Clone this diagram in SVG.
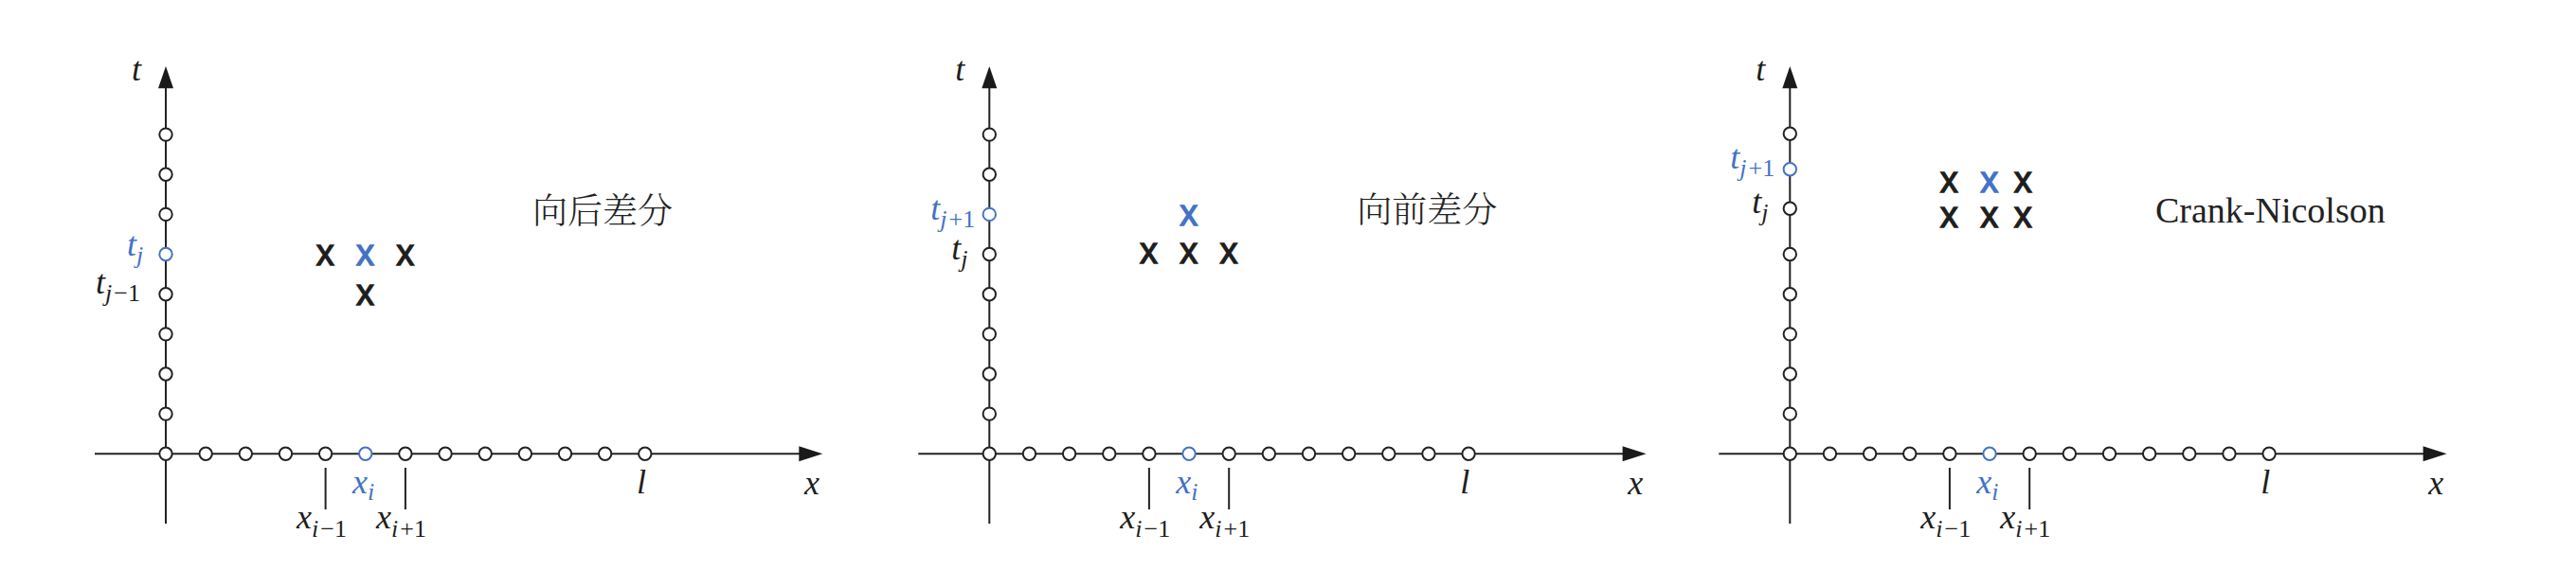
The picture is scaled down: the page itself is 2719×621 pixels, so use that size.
<svg xmlns="http://www.w3.org/2000/svg" width="2719" height="621" viewBox="0 0 2719 621">
<style>
.ax{stroke:#222;stroke-width:2;fill:none}
.ah{fill:#1a1a1a;stroke:none}
.dot{fill:#fff;stroke:#222;stroke-width:2}
.bdot{fill:#fff;stroke:#4472c4;stroke-width:2}
.m{font-family:"Liberation Serif","Times New Roman","DejaVu Serif",serif;font-style:italic;font-size:36px;fill:#1e1e1e}
.s{font-size:26px}
.r{font-style:normal}
.blue{fill:#4472c4}
.cr{font-family:"Liberation Sans",Arial,sans-serif;font-size:38px;fill:#1e1e1e;stroke:#1e1e1e;stroke-width:1.3;text-anchor:middle}
.cr.blue{fill:#4472c4;stroke:#4472c4}
.cn{font-family:"Noto Serif CJK SC","Noto Sans CJK SC","Noto Sans CJK JP",sans-serif;font-size:37px;font-weight:300;fill:#222}
.title{font-family:"Liberation Serif","Times New Roman","DejaVu Serif",serif;font-size:38px;fill:#222}
</style>
<defs>
<g id="frame">
<line class="ax" x1="175" y1="92" x2="175" y2="553"/>
<line class="ax" x1="100" y1="479.3" x2="845" y2="479.3"/>
<polygon class="ah" points="175,70 167,93.3 183,93.3"/>
<polygon class="ah" points="868.3,479.3 843.3,471.3 843.3,487.3"/>
<line class="ax" x1="343.6" y1="494" x2="343.6" y2="538"/>
<line class="ax" x1="427.9" y1="494" x2="427.9" y2="538"/>
</g>
<g id="hdots">
<circle class="dot" cx="175" cy="479.3" r="6.7"/>
<circle class="dot" cx="217.15" cy="479.3" r="6.7"/>
<circle class="dot" cx="259.3" cy="479.3" r="6.7"/>
<circle class="dot" cx="301.45" cy="479.3" r="6.7"/>
<circle class="dot" cx="343.6" cy="479.3" r="6.7"/>
<circle class="bdot" cx="385.75" cy="479.3" r="6.7"/>
<circle class="dot" cx="427.9" cy="479.3" r="6.7"/>
<circle class="dot" cx="470.05" cy="479.3" r="6.7"/>
<circle class="dot" cx="512.2" cy="479.3" r="6.7"/>
<circle class="dot" cx="554.35" cy="479.3" r="6.7"/>
<circle class="dot" cx="596.5" cy="479.3" r="6.7"/>
<circle class="dot" cx="638.65" cy="479.3" r="6.7"/>
<circle class="dot" cx="680.8" cy="479.3" r="6.7"/>
</g>
<g id="xlabels">
<text class="m" x="139" y="85">t</text>
<text class="m" x="849" y="521.5">x</text>
<text class="m" x="677" y="520.5" text-anchor="middle">l</text>
<text class="m blue" x="372" y="520.5">x<tspan class="s" dy="7">i</tspan></text>
<text class="m" x="313" y="558">x<tspan class="s" dy="9">i</tspan><tspan class="s r" dx="2">−1</tspan></text>
<text class="m" x="397" y="558">x<tspan class="s" dy="9">i</tspan><tspan class="s r" dx="2">+1</tspan></text>
</g>
</defs>

<g id="panel-backward">
<g id="p1-connectors"><use href="#frame"/></g>
<g id="p1-xgrid"><use href="#hdots"/></g>
<g id="p1-tgrid">
<circle class="dot" cx="175" cy="437.15" r="6.7"/>
<circle class="dot" cx="175" cy="395" r="6.7"/>
<circle class="dot" cx="175" cy="352.85" r="6.7"/>
<circle class="dot" cx="175" cy="310.7" r="6.7"/>
<circle class="bdot" cx="175" cy="268.55" r="6.7"/>
<circle class="dot" cx="175" cy="226.4" r="6.7"/>
<circle class="dot" cx="175" cy="184.25" r="6.7"/>
<circle class="dot" cx="175" cy="142.1" r="6.7"/>
</g>
<g id="p1-labels">
<use href="#xlabels"/>
<text class="m blue" x="134" y="270">t<tspan class="s" dy="8">j</tspan></text>
<text class="m" x="101" y="310">t<tspan class="s" dy="8">j</tspan><tspan class="s r" dx="2">−1</tspan></text>
</g>
<g id="p1-stencil">
<text class="cr" x="343.3" y="280">x</text>
<text class="cr blue" x="385.5" y="280">x</text>
<text class="cr" x="427.7" y="280">x</text>
<text class="cr" x="385.5" y="321.7">x</text>
</g>
<g id="p1-title"><text class="cn" x="562" y="236">向后差分</text></g>
</g>

<g id="panel-forward" transform="translate(869.3,0)">
<g id="p2-connectors"><use href="#frame"/></g>
<g id="p2-xgrid"><use href="#hdots"/></g>
<g id="p2-tgrid">
<circle class="dot" cx="175" cy="437.15" r="6.7"/>
<circle class="dot" cx="175" cy="395" r="6.7"/>
<circle class="dot" cx="175" cy="352.85" r="6.7"/>
<circle class="dot" cx="175" cy="310.7" r="6.7"/>
<circle class="dot" cx="175" cy="268.55" r="6.7"/>
<circle class="bdot" cx="175" cy="226.4" r="6.7"/>
<circle class="dot" cx="175" cy="184.25" r="6.7"/>
<circle class="dot" cx="175" cy="142.1" r="6.7"/>
</g>
<g id="p2-labels">
<use href="#xlabels"/>
<text class="m blue" x="113" y="232">t<tspan class="s" dy="8">j</tspan><tspan class="s r" dx="2">+1</tspan></text>
<text class="m" x="135" y="274">t<tspan class="s" dy="8">j</tspan></text>
</g>
<g id="p2-stencil">
<text class="cr blue" x="385.5" y="238.3">x</text>
<text class="cr" x="343.3" y="278.3">x</text>
<text class="cr" x="385.5" y="278.3">x</text>
<text class="cr" x="427.7" y="278.3">x</text>
</g>
<g id="p2-title"><text class="cn" x="563" y="235">向前差分</text></g>
</g>

<g id="panel-cn" transform="translate(1714.3,0)">
<g id="p3-connectors"><use href="#frame"/></g>
<g id="p3-xgrid"><use href="#hdots"/></g>
<g id="p3-tgrid">
<circle class="dot" cx="175" cy="437.15" r="6.7"/>
<circle class="dot" cx="175" cy="395" r="6.7"/>
<circle class="dot" cx="175" cy="352.85" r="6.7"/>
<circle class="dot" cx="175" cy="310.7" r="6.7"/>
<circle class="dot" cx="175" cy="268.55" r="6.7"/>
<circle class="dot" cx="175" cy="220.3" r="6.7"/>
<circle class="bdot" cx="175" cy="178.7" r="6.7"/>
<circle class="dot" cx="175" cy="141.3" r="6.7"/>
</g>
<g id="p3-labels">
<use href="#xlabels"/>
<text class="m blue" x="112" y="178.3">t<tspan class="s" dy="8">j</tspan><tspan class="s r" dx="2">+1</tspan></text>
<text class="m" x="135" y="225">t<tspan class="s" dy="8">j</tspan></text>
</g>
<g id="p3-stencil">
<text class="cr" x="343" y="203.3">x</text>
<text class="cr blue" x="385.4" y="203.3">x</text>
<text class="cr" x="421" y="203.3">x</text>
<text class="cr" x="343" y="239.7">x</text>
<text class="cr" x="385.4" y="239.7">x</text>
<text class="cr" x="421" y="239.7">x</text>
</g>
<g id="p3-title"><text class="title" x="560.7" y="235">Crank-Nicolson</text></g>
</g>
</svg>
